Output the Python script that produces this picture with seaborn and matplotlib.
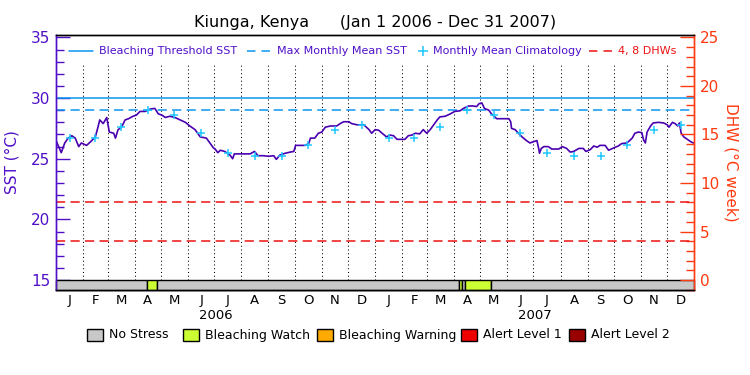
import matplotlib
matplotlib.use("Agg")
import matplotlib.pyplot as plt
import matplotlib.transforms as mtransforms
from matplotlib.patches import Rectangle
from matplotlib.lines import Line2D
from matplotlib.ticker import MultipleLocator
import numpy as np
import pandas as pd
import seaborn as sns

sns.set_theme(style="white")
plt.rcParams['font.family'] = ['DejaVu Sans']

# ---------------- data ----------------
title = "Kiunga, Kenya      (Jan 1 2006 - Dec 31 2007)"

# days since Jan 1 2006
sst_days = [0, 6, 10, 14, 18, 22, 26, 29, 35, 41, 45, 48, 50, 54, 58, 61, 66, 68, 71, 75,
            79, 83, 88, 92, 96, 102, 108, 113, 117, 121, 125, 130, 136, 142, 148, 153, 159,
            165, 172, 176, 180, 182, 185, 188, 193, 199, 202, 204, 212, 222, 227, 231, 237,
            243, 249, 252, 256, 262, 268, 272, 274, 285, 289, 291, 296, 300, 304, 308, 314,
            321, 325, 329, 335, 338, 344, 352, 358, 361,
            365, 369, 373, 378, 382, 386, 390, 399, 403, 407, 411, 416, 420, 424, 428, 432,
            436, 439, 445, 451, 456, 462, 466, 472, 477, 481, 484, 487, 490, 495, 498, 504,
            510, 518, 520, 521, 525, 529, 533, 538, 542, 546, 550, 552, 553, 555, 558, 563,
            567, 575, 579, 584, 588, 592, 598, 603, 606, 611, 615, 619, 622, 628, 632, 638,
            643, 647, 653, 659, 662, 666, 670, 672, 674, 676, 680, 683, 689, 695, 699, 701,
            705, 708, 711, 713, 715, 718, 722, 726, 729]
sst_vals = [26.5, 25.5, 26.3, 26.7, 26.9, 26.7, 26.0, 26.3, 26.1, 26.5, 26.8, 27.6, 28.2,
            27.9, 28.4, 27.2, 27.1, 26.7, 27.4, 27.6, 28.2, 28.3, 28.5, 28.6, 28.9, 28.9,
            29.1, 29.15, 28.7, 28.6, 28.4, 28.5, 28.4, 28.2, 28.0, 27.7, 27.4, 26.8, 26.7,
            26.3, 25.9, 25.8, 25.5, 25.7, 25.6, 25.3, 25.0, 25.4, 25.4, 25.4, 25.6, 25.25,
            25.25, 25.2, 25.25, 24.95, 25.3, 25.45, 25.55, 25.6, 26.1, 26.1, 26.25, 26.7,
            26.7, 27.1, 27.2, 27.6, 27.7, 27.7, 27.9, 28.05, 28.05, 27.9, 27.8, 27.8, 27.4,
            27.1,
            27.4, 27.35, 27.1, 26.8, 26.95, 26.9, 26.6, 26.6, 26.9, 26.95, 27.1, 27.05, 27.4,
            27.1, 27.4, 27.8, 28.2, 28.45, 28.5, 28.7, 28.9, 28.95, 29.15, 29.35, 29.35, 29.3,
            29.55, 29.6, 29.15, 29.0, 28.7, 28.3, 28.3, 28.3, 28.05, 27.5, 27.4, 27.1, 26.8,
            26.5, 26.3, 26.4, 26.5, 25.85, 25.45, 25.85, 26.0, 26.0, 25.8, 25.8, 26.0, 25.85,
            25.55, 25.6, 25.85, 25.85, 25.6, 25.75, 26.05, 25.95, 26.1, 26.1, 25.7, 25.9,
            26.05, 26.25, 26.3, 26.7, 27.1, 27.2, 27.15, 26.55, 26.3, 27.2, 27.7, 27.95, 28.0,
            27.95, 27.8, 27.6, 28.0, 27.9, 27.7, 27.95, 27.1, 26.8, 26.6, 26.4, 26.3]

clim_vals = [26.75, 26.7, 27.6, 29.0, 28.6, 27.1, 25.5, 25.2, 25.2, 26.1, 27.4, 27.8]
mmm = 29.0
threshold = 30.0
dhw_levels = [4, 8]

month_letters = ['J', 'F', 'M', 'A', 'M', 'J', 'J', 'A', 'S', 'O', 'N', 'D']
month_lengths = [31, 28, 31, 30, 31, 30, 31, 31, 30, 31, 30, 31]
years = ['2006', '2007']

# status bar segments (start day, end day, level)
status_start = [0, 104, 115, 461, 464, 468, 498]
status_end = [104, 115, 461, 464, 468, 498, 730]
status_level = [0, 1, 0, 1, 0, 1, 0]
status_names = ['No Stress', 'Bleaching Watch', 'Bleaching Warning', 'Alert Level 1', 'Alert Level 2']
status_colors = ['#c8c8c8', '#ccff33', '#ffaa00', '#ee0000', '#990000']

legend_labels = ['Bleaching Threshold SST', 'Max Monthly Mean SST',
                 'Monthly Mean Climatology', '4, 8 DHWs']

# ---------------- derived ----------------
all_lengths = month_lengths * 2
bounds = np.concatenate([[0], np.cumsum(all_lengths)])
mid_month = (bounds[:-1] + bounds[1:]) / 2.0
clim_days = mid_month
clim_all = clim_vals * 2

df = pd.DataFrame({'day': sst_days, 'sst': sst_vals})
dfc = pd.DataFrame({'day': clim_days, 'clim': clim_all})

PURPLE = '#5010c8'
LINEPURPLE = '#4a00b0'
RED = '#ff3a10'
DHWRED = '#ee1111'
BLUE = '#0a96f0'
CYAN = '#1ec8ff'
DASH = (6, 3.5)

W, H = 750, 375
fig = plt.figure(figsize=(7.5, 3.75), dpi=100)
ax = fig.add_axes([56 / W, 1 - 290 / H, (694.3 - 56) / W, (290 - 35) / H])
ax.set_facecolor('white')

ylo, yhi = 14.18, 35.2
ax.set_xlim(0, 730)
ax.set_ylim(ylo, yhi)

# month grid
ax.vlines(bounds[1:-1], 15, 32.9, colors='black', linewidth=0.75,
          linestyles=(0, (1, 2.6)), zorder=1)

# threshold / MMM
ax.axhline(threshold, color=BLUE, lw=1.1, zorder=2)
ax.axhline(mmm, color=BLUE, lw=1.1, dashes=DASH, zorder=2)

# SST line
sns.lineplot(data=df, x='day', y='sst', ax=ax, color=LINEPURPLE, lw=1.2, zorder=4, legend=False)

# climatology
sns.scatterplot(data=dfc, x='day', y='clim', ax=ax, marker='+', s=40, color=CYAN,
                linewidth=1.1, zorder=5, legend=False)

# DHW axis
ax2 = ax.twinx()
ax2.set_ylim((ylo - 15) * 1.25, (yhi - 15) * 1.25)
for lv in dhw_levels:
    ax2.axhline(lv, color=DHWRED, lw=1.1, dashes=DASH, zorder=2)

# status bar
for s0, s1, lv in zip(status_start, status_end, status_level):
    ax.add_patch(Rectangle((s0, ylo), s1 - s0, 15 - ylo, facecolor=status_colors[lv],
                           edgecolor='black', lw=1.0, zorder=6, clip_on=False))

# axis styling
ax.set_xlabel('')
ax.set_ylabel('SST (°C)', color=PURPLE, fontsize=11, labelpad=8)
ax2.set_ylabel('DHW (°C week)', color=RED, fontsize=11, rotation=270, labelpad=14)
ax.yaxis.set_minor_locator(MultipleLocator(1))
ax.set_yticks([15, 20, 25, 30, 35])
ax.tick_params(axis='y', which='major', direction='in', length=10, width=1, color=PURPLE,
               labelcolor=PURPLE, labelsize=11, pad=4, left=True)
ax.tick_params(axis='y', which='minor', direction='in', length=6, width=1, color=PURPLE, left=True)
ax2.yaxis.set_minor_locator(MultipleLocator(1))
ax2.set_yticks([0, 5, 10, 15, 20, 25])
ax2.tick_params(axis='y', which='major', direction='in', length=10, width=1, color=RED,
                labelcolor=RED, labelsize=11, pad=4, right=True)
ax2.tick_params(axis='y', which='minor', direction='in', length=6, width=1, color=RED, right=True)

ax.set_xticks(mid_month)
ax.set_xticklabels(month_letters * 2, fontsize=9.5, color='black')
ax.tick_params(axis='x', length=0, pad=3)

trans = mtransforms.blended_transform_factory(ax.transData, ax.transAxes)
for i, yr in enumerate(years):
    ax.text(365 * i + 182.5, -0.1, yr, transform=trans, ha='center', va='center',
            fontsize=9.5, color='black')

for a in (ax, ax2):
    for sp in a.spines.values():
        sp.set_linewidth(1.0)
    a.spines['top'].set_color('black')
    a.spines['bottom'].set_color('black')
    a.spines['left'].set_color(PURPLE)
    a.spines['right'].set_color(RED)
    a.grid(False)

# legend (drawn as a row of keys inside the plot)
ly = 1 - 51 / H
fig.lines.append(Line2D([69 / W, 93 / W], [ly, ly], color=BLUE, lw=1.1,
                        transform=fig.transFigure, figure=fig))
fig.lines.append(Line2D([247 / W, 271 / W], [ly, ly], color=BLUE, lw=1.1, dashes=(5.5, 4),
                        transform=fig.transFigure, figure=fig))
fig.lines.append(Line2D([423 / W], [ly], color=CYAN, marker='+', ms=7, mew=1.1, lw=0,
                        transform=fig.transFigure, figure=fig))
fig.lines.append(Line2D([589 / W, 613 / W], [ly, ly], color=DHWRED, lw=1.1, dashes=(5.5, 4),
                        transform=fig.transFigure, figure=fig))
for xx, lab, col in zip([99, 277, 433, 618], legend_labels, [PURPLE, PURPLE, PURPLE, DHWRED]):
    fig.text(xx / W, ly, lab, ha='left', va='center', fontsize=8, color=col)

fig.text(0.5, 1 - 22 / H, title, ha='center', va='center', fontsize=11.5, color='black')

# status legend
sq_x = [87, 183, 317, 461, 569]
for xx, name, col in zip(sq_x, status_names, status_colors):
    fig.patches.append(Rectangle((xx / W, 1 - 341 / H), 16 / W, 12 / H,
                                 facecolor=col, edgecolor='black', lw=1.0,
                                 transform=fig.transFigure, figure=fig))
    fig.text((xx + 22) / W, 1 - 335 / H, name, ha='left', va='center',
             fontsize=9, color='black')

fig.savefig('out.png', dpi=100, facecolor='white')
